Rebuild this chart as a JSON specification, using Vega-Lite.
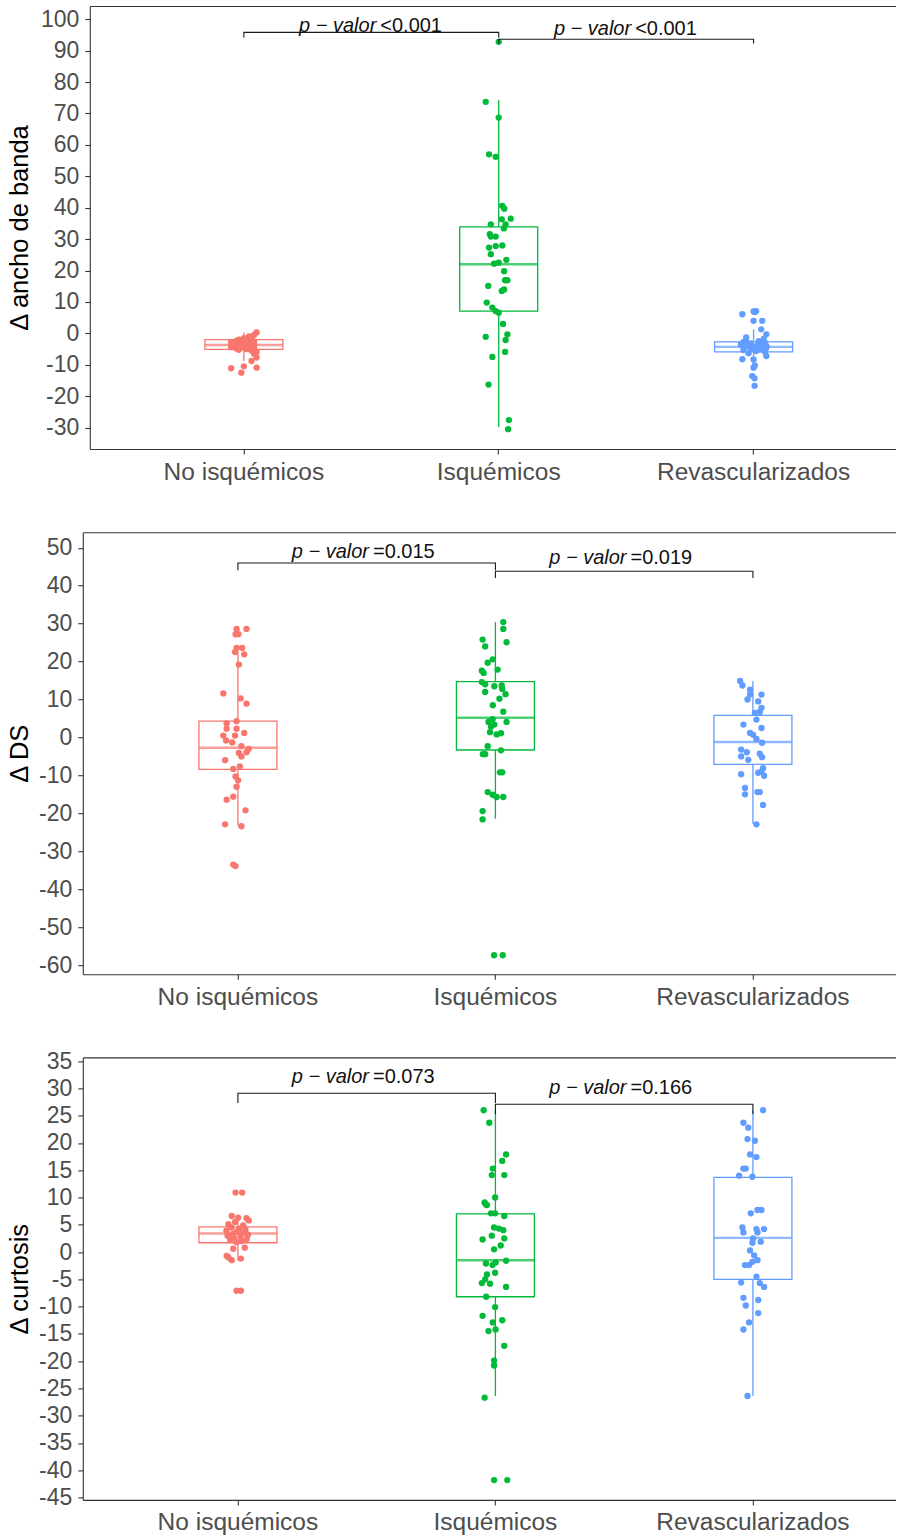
{
  "$schema": "https://vega.github.io/schema/vega-lite/v6.json",
  "background": "white",
  "padding": {"left": 7.8, "top": 6, "right": 0, "bottom": 0},
  "config": {
    "font": "Liberation Sans",
    "view": {"stroke": null},
    "axis": {"grid": false, "domainColor": "#333333", "domainWidth": 1.1, "tickColor": "#333333", "tickWidth": 1.1, "tickSize": 5, "labelColor": "#4D4D4D", "labelFont": "Liberation Sans", "titleFont": "Liberation Sans", "titleColor": "#000000", "titleFontWeight": "normal", "labelLimit": 0}
  },
  "datasets": {
    "box": [
      {"panel":"a","grupo":"No isquémicos","lower":-8.8,"q1":-5.1,"median":-3.7,"q3":-2.0,"upper":0.3},
      {"panel":"a","grupo":"Isquémicos","lower":-29.8,"q1":7.1,"median":22.0,"q3":33.9,"upper":74.2},
      {"panel":"a","grupo":"Revascularizados","lower":-10.2,"q1":-5.9,"median":-4.3,"q3":-2.7,"upper":1.3},
      {"panel":"d","grupo":"No isquémicos","lower":-23.3,"q1":-8.4,"median":-2.7,"q3":4.3,"upper":22.5},
      {"panel":"d","grupo":"Isquémicos","lower":-21.4,"q1":-3.3,"median":5.2,"q3":14.7,"upper":30.4},
      {"panel":"d","grupo":"Revascularizados","lower":-22.8,"q1":-7.1,"median":-1.2,"q3":5.8,"upper":14.8},
      {"panel":"c","grupo":"No isquémicos","lower":-1.5,"q1":1.7,"median":3.4,"q3":4.6,"upper":6.6},
      {"panel":"c","grupo":"Isquémicos","lower":-26.4,"q1":-8.2,"median":-1.5,"q3":7.0,"upper":26.0},
      {"panel":"c","grupo":"Revascularizados","lower":-26.4,"q1":-5.0,"median":2.6,"q3":13.7,"upper":26.0}
    ],
    "br": [
      {"panel":"a","br":1,"grupo":"No isquémicos","y":94.2,"ord":0},
      {"panel":"a","br":1,"grupo":"No isquémicos","y":95.8,"ord":1},
      {"panel":"a","br":1,"grupo":"Isquémicos","y":95.8,"ord":2},
      {"panel":"a","br":1,"grupo":"Isquémicos","y":94.2,"ord":3},
      {"panel":"a","br":2,"grupo":"Isquémicos","y":92.3,"ord":0},
      {"panel":"a","br":2,"grupo":"Isquémicos","y":93.6,"ord":1},
      {"panel":"a","br":2,"grupo":"Revascularizados","y":93.6,"ord":2},
      {"panel":"a","br":2,"grupo":"Revascularizados","y":92.3,"ord":3},
      {"panel":"d","br":1,"grupo":"No isquémicos","y":44.1,"ord":0},
      {"panel":"d","br":1,"grupo":"No isquémicos","y":46.0,"ord":1},
      {"panel":"d","br":1,"grupo":"Isquémicos","y":46.0,"ord":2},
      {"panel":"d","br":1,"grupo":"Isquémicos","y":44.1,"ord":3},
      {"panel":"d","br":2,"grupo":"Isquémicos","y":42.0,"ord":0},
      {"panel":"d","br":2,"grupo":"Isquémicos","y":43.8,"ord":1},
      {"panel":"d","br":2,"grupo":"Revascularizados","y":43.8,"ord":2},
      {"panel":"d","br":2,"grupo":"Revascularizados","y":42.0,"ord":3},
      {"panel":"c","br":1,"grupo":"No isquémicos","y":27.3,"ord":0},
      {"panel":"c","br":1,"grupo":"No isquémicos","y":29.1,"ord":1},
      {"panel":"c","br":1,"grupo":"Isquémicos","y":29.1,"ord":2},
      {"panel":"c","br":1,"grupo":"Isquémicos","y":27.3,"ord":3},
      {"panel":"c","br":2,"grupo":"Isquémicos","y":25.3,"ord":0},
      {"panel":"c","br":2,"grupo":"Isquémicos","y":27.1,"ord":1},
      {"panel":"c","br":2,"grupo":"Revascularizados","y":27.1,"ord":2},
      {"panel":"c","br":2,"grupo":"Revascularizados","y":25.3,"ord":3}
    ],
    "lab": [
      {"panel":"a","grupo":"No isquémicos","y":96.0,"rel":"<0.001"},
      {"panel":"a","grupo":"Isquémicos","y":94.9,"rel":"<0.001"},
      {"panel":"d","grupo":"No isquémicos","y":47.4,"rel":"=0.015"},
      {"panel":"d","grupo":"Isquémicos","y":45.6,"rel":"=0.019"},
      {"panel":"c","grupo":"No isquémicos","y":31.0,"rel":"=0.073"},
      {"panel":"c","grupo":"Isquémicos","y":29.0,"rel":"=0.166"}
    ],
    "pts": [
      {"panel":"a","grupo":"No isquémicos","valor":0.3,"jit":0.05},
      {"panel":"a","grupo":"No isquémicos","valor":-0.5,"jit":0.04},
      {"panel":"a","grupo":"No isquémicos","valor":-1.0,"jit":0.02},
      {"panel":"a","grupo":"No isquémicos","valor":-1.5,"jit":0.0},
      {"panel":"a","grupo":"No isquémicos","valor":-1.8,"jit":0.03},
      {"panel":"a","grupo":"No isquémicos","valor":-2.0,"jit":-0.02},
      {"panel":"a","grupo":"No isquémicos","valor":-2.2,"jit":0.01},
      {"panel":"a","grupo":"No isquémicos","valor":-2.4,"jit":-0.03},
      {"panel":"a","grupo":"No isquémicos","valor":-2.6,"jit":0.04},
      {"panel":"a","grupo":"No isquémicos","valor":-2.8,"jit":0.0},
      {"panel":"a","grupo":"No isquémicos","valor":-3.0,"jit":-0.04},
      {"panel":"a","grupo":"No isquémicos","valor":-3.1,"jit":0.02},
      {"panel":"a","grupo":"No isquémicos","valor":-3.3,"jit":-0.01},
      {"panel":"a","grupo":"No isquémicos","valor":-3.4,"jit":0.03},
      {"panel":"a","grupo":"No isquémicos","valor":-3.5,"jit":-0.03},
      {"panel":"a","grupo":"No isquémicos","valor":-3.6,"jit":0.01},
      {"panel":"a","grupo":"No isquémicos","valor":-3.7,"jit":-0.05},
      {"panel":"a","grupo":"No isquémicos","valor":-3.8,"jit":0.04},
      {"panel":"a","grupo":"No isquémicos","valor":-3.9,"jit":-0.02},
      {"panel":"a","grupo":"No isquémicos","valor":-4.0,"jit":0.0},
      {"panel":"a","grupo":"No isquémicos","valor":-4.1,"jit":0.03},
      {"panel":"a","grupo":"No isquémicos","valor":-4.2,"jit":-0.04},
      {"panel":"a","grupo":"No isquémicos","valor":-4.3,"jit":0.02},
      {"panel":"a","grupo":"No isquémicos","valor":-4.5,"jit":-0.01},
      {"panel":"a","grupo":"No isquémicos","valor":-4.6,"jit":0.04},
      {"panel":"a","grupo":"No isquémicos","valor":-4.8,"jit":-0.03},
      {"panel":"a","grupo":"No isquémicos","valor":-5.0,"jit":0.01},
      {"panel":"a","grupo":"No isquémicos","valor":-5.2,"jit":-0.02},
      {"panel":"a","grupo":"No isquémicos","valor":-5.5,"jit":0.03},
      {"panel":"a","grupo":"No isquémicos","valor":-5.9,"jit":0.05},
      {"panel":"a","grupo":"No isquémicos","valor":-6.5,"jit":0.04},
      {"panel":"a","grupo":"No isquémicos","valor":-7.7,"jit":0.05},
      {"panel":"a","grupo":"No isquémicos","valor":-8.8,"jit":0.03},
      {"panel":"a","grupo":"No isquémicos","valor":-10.5,"jit":0.0},
      {"panel":"a","grupo":"No isquémicos","valor":-10.9,"jit":0.05},
      {"panel":"a","grupo":"No isquémicos","valor":-11.1,"jit":-0.05},
      {"panel":"a","grupo":"No isquémicos","valor":-12.5,"jit":-0.01},
      {"panel":"a","grupo":"No isquémicos","valor":-2.9,"jit":-0.05},
      {"panel":"a","grupo":"No isquémicos","valor":-4.4,"jit":-0.05},
      {"panel":"a","grupo":"Isquémicos","valor":92.8,"jit":0.0},
      {"panel":"a","grupo":"Isquémicos","valor":73.7,"jit":-0.051},
      {"panel":"a","grupo":"Isquémicos","valor":68.7,"jit":0.0},
      {"panel":"a","grupo":"Isquémicos","valor":57.0,"jit":-0.038},
      {"panel":"a","grupo":"Isquémicos","valor":56.2,"jit":-0.012},
      {"panel":"a","grupo":"Isquémicos","valor":40.6,"jit":0.014},
      {"panel":"a","grupo":"Isquémicos","valor":39.7,"jit":0.022},
      {"panel":"a","grupo":"Isquémicos","valor":36.3,"jit":0.012},
      {"panel":"a","grupo":"Isquémicos","valor":36.5,"jit":0.047},
      {"panel":"a","grupo":"Isquémicos","valor":34.7,"jit":-0.031},
      {"panel":"a","grupo":"Isquémicos","valor":34.7,"jit":0.027},
      {"panel":"a","grupo":"Isquémicos","valor":33.4,"jit":0.02},
      {"panel":"a","grupo":"Isquémicos","valor":31.6,"jit":-0.035},
      {"panel":"a","grupo":"Isquémicos","valor":30.8,"jit":-0.031},
      {"panel":"a","grupo":"Isquémicos","valor":30.8,"jit":-0.012},
      {"panel":"a","grupo":"Isquémicos","valor":27.3,"jit":-0.038},
      {"panel":"a","grupo":"Isquémicos","valor":27.8,"jit":-0.012},
      {"panel":"a","grupo":"Isquémicos","valor":28.0,"jit":0.014},
      {"panel":"a","grupo":"Isquémicos","valor":25.2,"jit":-0.031},
      {"panel":"a","grupo":"Isquémicos","valor":23.4,"jit":0.03},
      {"panel":"a","grupo":"Isquémicos","valor":22.2,"jit":-0.018},
      {"panel":"a","grupo":"Isquémicos","valor":22.5,"jit":0.0},
      {"panel":"a","grupo":"Isquémicos","valor":19.8,"jit":0.021},
      {"panel":"a","grupo":"Isquémicos","valor":16.9,"jit":0.034},
      {"panel":"a","grupo":"Isquémicos","valor":16.9,"jit":0.025},
      {"panel":"a","grupo":"Isquémicos","valor":15.1,"jit":-0.041},
      {"panel":"a","grupo":"Isquémicos","valor":14.0,"jit":0.021},
      {"panel":"a","grupo":"Isquémicos","valor":13.5,"jit":0.012},
      {"panel":"a","grupo":"Isquémicos","valor":9.8,"jit":-0.047},
      {"panel":"a","grupo":"Isquémicos","valor":8.2,"jit":-0.025},
      {"panel":"a","grupo":"Isquémicos","valor":7.1,"jit":-0.012},
      {"panel":"a","grupo":"Isquémicos","valor":6.6,"jit":0.0},
      {"panel":"a","grupo":"Isquémicos","valor":3.0,"jit":0.017},
      {"panel":"a","grupo":"Isquémicos","valor":-1.1,"jit":-0.051},
      {"panel":"a","grupo":"Isquémicos","valor":-0.3,"jit":0.034},
      {"panel":"a","grupo":"Isquémicos","valor":-2.1,"jit":0.027},
      {"panel":"a","grupo":"Isquémicos","valor":-7.5,"jit":-0.025},
      {"panel":"a","grupo":"Isquémicos","valor":-5.9,"jit":0.025},
      {"panel":"a","grupo":"Isquémicos","valor":-16.3,"jit":-0.04},
      {"panel":"a","grupo":"Isquémicos","valor":-27.6,"jit":0.04},
      {"panel":"a","grupo":"Isquémicos","valor":-30.5,"jit":0.037},
      {"panel":"a","grupo":"Revascularizados","valor":7.1,"jit":0.01},
      {"panel":"a","grupo":"Revascularizados","valor":7.0,"jit":0.0},
      {"panel":"a","grupo":"Revascularizados","valor":6.8,"jit":0.005},
      {"panel":"a","grupo":"Revascularizados","valor":6.1,"jit":-0.044},
      {"panel":"a","grupo":"Revascularizados","valor":4.0,"jit":0.0},
      {"panel":"a","grupo":"Revascularizados","valor":4.0,"jit":0.034},
      {"panel":"a","grupo":"Revascularizados","valor":1.3,"jit":0.03},
      {"panel":"a","grupo":"Revascularizados","valor":-0.3,"jit":0.05},
      {"panel":"a","grupo":"Revascularizados","valor":-1.3,"jit":-0.029},
      {"panel":"a","grupo":"Revascularizados","valor":-1.8,"jit":0.04},
      {"panel":"a","grupo":"Revascularizados","valor":-2.2,"jit":-0.03},
      {"panel":"a","grupo":"Revascularizados","valor":-2.5,"jit":0.02},
      {"panel":"a","grupo":"Revascularizados","valor":-2.8,"jit":-0.04},
      {"panel":"a","grupo":"Revascularizados","valor":-3.0,"jit":0.045},
      {"panel":"a","grupo":"Revascularizados","valor":-3.2,"jit":-0.01},
      {"panel":"a","grupo":"Revascularizados","valor":-3.4,"jit":0.03},
      {"panel":"a","grupo":"Revascularizados","valor":-3.6,"jit":-0.045},
      {"panel":"a","grupo":"Revascularizados","valor":-3.8,"jit":0.015},
      {"panel":"a","grupo":"Revascularizados","valor":-4.0,"jit":-0.02},
      {"panel":"a","grupo":"Revascularizados","valor":-4.1,"jit":0.05},
      {"panel":"a","grupo":"Revascularizados","valor":-4.3,"jit":0.0},
      {"panel":"a","grupo":"Revascularizados","valor":-4.5,"jit":-0.035},
      {"panel":"a","grupo":"Revascularizados","valor":-4.7,"jit":0.035},
      {"panel":"a","grupo":"Revascularizados","valor":-4.9,"jit":-0.01},
      {"panel":"a","grupo":"Revascularizados","valor":-5.1,"jit":0.025},
      {"panel":"a","grupo":"Revascularizados","valor":-5.3,"jit":-0.04},
      {"panel":"a","grupo":"Revascularizados","valor":-5.6,"jit":0.01},
      {"panel":"a","grupo":"Revascularizados","valor":-5.9,"jit":0.045},
      {"panel":"a","grupo":"Revascularizados","valor":-6.3,"jit":-0.02},
      {"panel":"a","grupo":"Revascularizados","valor":-7.2,"jit":0.05},
      {"panel":"a","grupo":"Revascularizados","valor":-8.2,"jit":-0.044},
      {"panel":"a","grupo":"Revascularizados","valor":-8.3,"jit":0.0},
      {"panel":"a","grupo":"Revascularizados","valor":-10.2,"jit":0.005},
      {"panel":"a","grupo":"Revascularizados","valor":-10.9,"jit":0.0},
      {"panel":"a","grupo":"Revascularizados","valor":-13.6,"jit":-0.005},
      {"panel":"a","grupo":"Revascularizados","valor":-14.3,"jit":0.004},
      {"panel":"a","grupo":"Revascularizados","valor":-16.7,"jit":0.004},
      {"panel":"a","grupo":"Revascularizados","valor":-3.5,"jit":-0.05},
      {"panel":"a","grupo":"Revascularizados","valor":-4.6,"jit":0.05},
      {"panel":"d","grupo":"No isquémicos","valor":28.6,"jit":0.0},
      {"panel":"d","grupo":"No isquémicos","valor":28.6,"jit":0.039},
      {"panel":"d","grupo":"No isquémicos","valor":27.2,"jit":-0.004},
      {"panel":"d","grupo":"No isquémicos","valor":27.2,"jit":0.007},
      {"panel":"d","grupo":"No isquémicos","valor":23.6,"jit":0.0},
      {"panel":"d","grupo":"No isquémicos","valor":23.6,"jit":0.022},
      {"panel":"d","grupo":"No isquémicos","valor":22.5,"jit":-0.006},
      {"panel":"d","grupo":"No isquémicos","valor":21.9,"jit":0.03},
      {"panel":"d","grupo":"No isquémicos","valor":19.2,"jit":0.009},
      {"panel":"d","grupo":"No isquémicos","valor":11.6,"jit":-0.052},
      {"panel":"d","grupo":"No isquémicos","valor":10.3,"jit":0.016},
      {"panel":"d","grupo":"No isquémicos","valor":8.9,"jit":0.039},
      {"panel":"d","grupo":"No isquémicos","valor":4.3,"jit":0.0},
      {"panel":"d","grupo":"No isquémicos","valor":3.7,"jit":-0.039},
      {"panel":"d","grupo":"No isquémicos","valor":2.3,"jit":-0.039},
      {"panel":"d","grupo":"No isquémicos","valor":2.3,"jit":0.0},
      {"panel":"d","grupo":"No isquémicos","valor":1.2,"jit":0.03},
      {"panel":"d","grupo":"No isquémicos","valor":0.5,"jit":-0.052},
      {"panel":"d","grupo":"No isquémicos","valor":0.5,"jit":-0.006},
      {"panel":"d","grupo":"No isquémicos","valor":-0.8,"jit":-0.041},
      {"panel":"d","grupo":"No isquémicos","valor":-1.3,"jit":-0.017},
      {"panel":"d","grupo":"No isquémicos","valor":-2.3,"jit":0.019},
      {"panel":"d","grupo":"No isquémicos","valor":-3.0,"jit":0.048},
      {"panel":"d","grupo":"No isquémicos","valor":-3.9,"jit":0.039},
      {"panel":"d","grupo":"No isquémicos","valor":-4.1,"jit":0.009},
      {"panel":"d","grupo":"No isquémicos","valor":-5.0,"jit":0.019},
      {"panel":"d","grupo":"No isquémicos","valor":-6.0,"jit":-0.045},
      {"panel":"d","grupo":"No isquémicos","valor":-7.6,"jit":0.013},
      {"panel":"d","grupo":"No isquémicos","valor":-8.3,"jit":-0.013},
      {"panel":"d","grupo":"No isquémicos","valor":-10.3,"jit":-0.004},
      {"panel":"d","grupo":"No isquémicos","valor":-11.3,"jit":0.006},
      {"panel":"d","grupo":"No isquémicos","valor":-13.0,"jit":0.0},
      {"panel":"d","grupo":"No isquémicos","valor":-15.6,"jit":-0.013},
      {"panel":"d","grupo":"No isquémicos","valor":-16.4,"jit":-0.039},
      {"panel":"d","grupo":"No isquémicos","valor":-19.2,"jit":0.035},
      {"panel":"d","grupo":"No isquémicos","valor":-22.9,"jit":-0.045},
      {"panel":"d","grupo":"No isquémicos","valor":-23.4,"jit":0.019},
      {"panel":"d","grupo":"No isquémicos","valor":-33.5,"jit":-0.013},
      {"panel":"d","grupo":"No isquémicos","valor":-33.9,"jit":-0.004},
      {"panel":"d","grupo":"Isquémicos","valor":30.4,"jit":0.036},
      {"panel":"d","grupo":"Isquémicos","valor":28.6,"jit":0.036},
      {"panel":"d","grupo":"Isquémicos","valor":25.8,"jit":-0.045},
      {"panel":"d","grupo":"Isquémicos","valor":24.0,"jit":-0.035},
      {"panel":"d","grupo":"Isquémicos","valor":25.1,"jit":0.049},
      {"panel":"d","grupo":"Isquémicos","valor":20.6,"jit":-0.005},
      {"panel":"d","grupo":"Isquémicos","valor":19.7,"jit":-0.025},
      {"panel":"d","grupo":"Isquémicos","valor":17.6,"jit":-0.048},
      {"panel":"d","grupo":"Isquémicos","valor":17.0,"jit":-0.041},
      {"panel":"d","grupo":"Isquémicos","valor":17.9,"jit":0.014},
      {"panel":"d","grupo":"Isquémicos","valor":14.6,"jit":-0.048},
      {"panel":"d","grupo":"Isquémicos","valor":14.0,"jit":-0.035},
      {"panel":"d","grupo":"Isquémicos","valor":13.5,"jit":0.001},
      {"panel":"d","grupo":"Isquémicos","valor":13.7,"jit":0.03},
      {"panel":"d","grupo":"Isquémicos","valor":12.8,"jit":0.032},
      {"panel":"d","grupo":"Isquémicos","valor":12.0,"jit":-0.035},
      {"panel":"d","grupo":"Isquémicos","valor":11.4,"jit":0.045},
      {"panel":"d","grupo":"Isquémicos","valor":10.2,"jit":0.021},
      {"panel":"d","grupo":"Isquémicos","valor":8.5,"jit":-0.005},
      {"panel":"d","grupo":"Isquémicos","valor":6.8,"jit":0.036},
      {"panel":"d","grupo":"Isquémicos","valor":4.1,"jit":-0.022},
      {"panel":"d","grupo":"Isquémicos","valor":4.8,"jit":-0.006},
      {"panel":"d","grupo":"Isquémicos","valor":4.1,"jit":0.049},
      {"panel":"d","grupo":"Isquémicos","valor":2.8,"jit":-0.012},
      {"panel":"d","grupo":"Isquémicos","valor":3.4,"jit":0.001},
      {"panel":"d","grupo":"Isquémicos","valor":1.4,"jit":-0.016},
      {"panel":"d","grupo":"Isquémicos","valor":0.8,"jit":0.01},
      {"panel":"d","grupo":"Isquémicos","valor":1.1,"jit":0.027},
      {"panel":"d","grupo":"Isquémicos","valor":-2.3,"jit":-0.025},
      {"panel":"d","grupo":"Isquémicos","valor":-4.4,"jit":-0.044},
      {"panel":"d","grupo":"Isquémicos","valor":-4.4,"jit":-0.035},
      {"panel":"d","grupo":"Isquémicos","valor":-3.4,"jit":0.027},
      {"panel":"d","grupo":"Isquémicos","valor":-9.2,"jit":0.023},
      {"panel":"d","grupo":"Isquémicos","valor":-9.2,"jit":0.032},
      {"panel":"d","grupo":"Isquémicos","valor":-14.4,"jit":-0.025},
      {"panel":"d","grupo":"Isquémicos","valor":-15.1,"jit":-0.006},
      {"panel":"d","grupo":"Isquémicos","valor":-15.7,"jit":0.01},
      {"panel":"d","grupo":"Isquémicos","valor":-15.7,"jit":0.036},
      {"panel":"d","grupo":"Isquémicos","valor":-19.4,"jit":-0.045},
      {"panel":"d","grupo":"Isquémicos","valor":-21.6,"jit":-0.045},
      {"panel":"d","grupo":"Isquémicos","valor":-57.4,"jit":0.0},
      {"panel":"d","grupo":"Isquémicos","valor":-57.4,"jit":0.034},
      {"panel":"d","grupo":"Revascularizados","valor":14.9,"jit":-0.045},
      {"panel":"d","grupo":"Revascularizados","valor":13.7,"jit":-0.036},
      {"panel":"d","grupo":"Revascularizados","valor":12.6,"jit":-0.006},
      {"panel":"d","grupo":"Revascularizados","valor":11.3,"jit":-0.006},
      {"panel":"d","grupo":"Revascularizados","valor":10.0,"jit":-0.016},
      {"panel":"d","grupo":"Revascularizados","valor":11.3,"jit":0.039},
      {"panel":"d","grupo":"Revascularizados","valor":9.5,"jit":0.026},
      {"panel":"d","grupo":"Revascularizados","valor":7.8,"jit":0.039},
      {"panel":"d","grupo":"Revascularizados","valor":6.5,"jit":0.013},
      {"panel":"d","grupo":"Revascularizados","valor":6.7,"jit":0.032},
      {"panel":"d","grupo":"Revascularizados","valor":4.7,"jit":0.019},
      {"panel":"d","grupo":"Revascularizados","valor":3.4,"jit":-0.032},
      {"panel":"d","grupo":"Revascularizados","valor":2.5,"jit":0.039},
      {"panel":"d","grupo":"Revascularizados","valor":1.2,"jit":-0.006},
      {"panel":"d","grupo":"Revascularizados","valor":0.7,"jit":0.006},
      {"panel":"d","grupo":"Revascularizados","valor":-0.4,"jit":0.019},
      {"panel":"d","grupo":"Revascularizados","valor":-1.4,"jit":0.041},
      {"panel":"d","grupo":"Revascularizados","valor":-3.2,"jit":-0.041},
      {"panel":"d","grupo":"Revascularizados","valor":-3.9,"jit":-0.019},
      {"panel":"d","grupo":"Revascularizados","valor":-5.0,"jit":-0.041},
      {"panel":"d","grupo":"Revascularizados","valor":-5.9,"jit":-0.013},
      {"panel":"d","grupo":"Revascularizados","valor":-4.3,"jit":0.032},
      {"panel":"d","grupo":"Revascularizados","valor":-5.2,"jit":0.041},
      {"panel":"d","grupo":"Revascularizados","valor":-8.1,"jit":0.045},
      {"panel":"d","grupo":"Revascularizados","valor":-9.0,"jit":0.039},
      {"panel":"d","grupo":"Revascularizados","valor":-9.3,"jit":0.026},
      {"panel":"d","grupo":"Revascularizados","valor":-9.7,"jit":-0.041},
      {"panel":"d","grupo":"Revascularizados","valor":-10.1,"jit":0.049},
      {"panel":"d","grupo":"Revascularizados","valor":-13.3,"jit":-0.026},
      {"panel":"d","grupo":"Revascularizados","valor":-15.0,"jit":-0.026},
      {"panel":"d","grupo":"Revascularizados","valor":-14.4,"jit":0.023},
      {"panel":"d","grupo":"Revascularizados","valor":-14.4,"jit":0.032},
      {"panel":"d","grupo":"Revascularizados","valor":-17.8,"jit":0.045},
      {"panel":"d","grupo":"Revascularizados","valor":-22.9,"jit":0.019},
      {"panel":"c","grupo":"No isquémicos","valor":10.9,"jit":-0.004},
      {"panel":"c","grupo":"No isquémicos","valor":10.9,"jit":0.022},
      {"panel":"c","grupo":"No isquémicos","valor":6.6,"jit":-0.019},
      {"panel":"c","grupo":"No isquémicos","valor":6.3,"jit":0.006},
      {"panel":"c","grupo":"No isquémicos","valor":6.2,"jit":0.039},
      {"panel":"c","grupo":"No isquémicos","valor":5.8,"jit":0.048},
      {"panel":"c","grupo":"No isquémicos","valor":5.1,"jit":-0.032},
      {"panel":"c","grupo":"No isquémicos","valor":5.5,"jit":-0.006},
      {"panel":"c","grupo":"No isquémicos","valor":4.9,"jit":0.026},
      {"panel":"c","grupo":"No isquémicos","valor":4.5,"jit":-0.02},
      {"panel":"c","grupo":"No isquémicos","valor":4.3,"jit":0.01},
      {"panel":"c","grupo":"No isquémicos","valor":4.1,"jit":0.035},
      {"panel":"c","grupo":"No isquémicos","valor":3.9,"jit":-0.04},
      {"panel":"c","grupo":"No isquémicos","valor":3.7,"jit":0.0},
      {"panel":"c","grupo":"No isquémicos","valor":3.5,"jit":0.025},
      {"panel":"c","grupo":"No isquémicos","valor":3.3,"jit":-0.015},
      {"panel":"c","grupo":"No isquémicos","valor":3.2,"jit":0.045},
      {"panel":"c","grupo":"No isquémicos","valor":3.0,"jit":-0.035},
      {"panel":"c","grupo":"No isquémicos","valor":2.8,"jit":0.015},
      {"panel":"c","grupo":"No isquémicos","valor":2.6,"jit":-0.01},
      {"panel":"c","grupo":"No isquémicos","valor":2.4,"jit":0.04},
      {"panel":"c","grupo":"No isquémicos","valor":2.2,"jit":-0.025},
      {"panel":"c","grupo":"No isquémicos","valor":2.0,"jit":0.02},
      {"panel":"c","grupo":"No isquémicos","valor":1.8,"jit":0.0},
      {"panel":"c","grupo":"No isquémicos","valor":0.8,"jit":0.032},
      {"panel":"c","grupo":"No isquémicos","valor":0.6,"jit":-0.013},
      {"panel":"c","grupo":"No isquémicos","valor":-0.7,"jit":-0.039},
      {"panel":"c","grupo":"No isquémicos","valor":-1.0,"jit":-0.032},
      {"panel":"c","grupo":"No isquémicos","valor":-1.5,"jit":-0.019},
      {"panel":"c","grupo":"No isquémicos","valor":-1.2,"jit":0.017},
      {"panel":"c","grupo":"No isquémicos","valor":-7.1,"jit":0.0},
      {"panel":"c","grupo":"No isquémicos","valor":-7.1,"jit":0.017},
      {"panel":"c","grupo":"Isquémicos","valor":26.0,"jit":-0.041},
      {"panel":"c","grupo":"Isquémicos","valor":23.7,"jit":-0.019},
      {"panel":"c","grupo":"Isquémicos","valor":17.9,"jit":0.047},
      {"panel":"c","grupo":"Isquémicos","valor":16.7,"jit":0.032},
      {"panel":"c","grupo":"Isquémicos","valor":15.3,"jit":-0.005},
      {"panel":"c","grupo":"Isquémicos","valor":14.1,"jit":-0.009},
      {"panel":"c","grupo":"Isquémicos","valor":14.1,"jit":0.04},
      {"panel":"c","grupo":"Isquémicos","valor":10.0,"jit":0.004},
      {"panel":"c","grupo":"Isquémicos","valor":9.1,"jit":-0.037},
      {"panel":"c","grupo":"Isquémicos","valor":8.7,"jit":-0.032},
      {"panel":"c","grupo":"Isquémicos","valor":8.6,"jit":-0.028},
      {"panel":"c","grupo":"Isquémicos","valor":7.1,"jit":-0.012},
      {"panel":"c","grupo":"Isquémicos","valor":7.1,"jit":0.004},
      {"panel":"c","grupo":"Isquémicos","valor":6.6,"jit":0.04},
      {"panel":"c","grupo":"Isquémicos","valor":4.5,"jit":0.0},
      {"panel":"c","grupo":"Isquémicos","valor":4.3,"jit":0.019},
      {"panel":"c","grupo":"Isquémicos","valor":4.0,"jit":0.036},
      {"panel":"c","grupo":"Isquémicos","valor":3.0,"jit":-0.009},
      {"panel":"c","grupo":"Isquémicos","valor":2.3,"jit":-0.045},
      {"panel":"c","grupo":"Isquémicos","valor":2.5,"jit":0.04},
      {"panel":"c","grupo":"Isquémicos","valor":1.2,"jit":0.026},
      {"panel":"c","grupo":"Isquémicos","valor":0.5,"jit":0.0},
      {"panel":"c","grupo":"Isquémicos","valor":-1.6,"jit":0.047},
      {"panel":"c","grupo":"Isquémicos","valor":-2.1,"jit":-0.032},
      {"panel":"c","grupo":"Isquémicos","valor":-2.4,"jit":-0.006},
      {"panel":"c","grupo":"Isquémicos","valor":-1.9,"jit":0.006},
      {"panel":"c","grupo":"Isquémicos","valor":-3.8,"jit":0.004},
      {"panel":"c","grupo":"Isquémicos","valor":-4.1,"jit":-0.028},
      {"panel":"c","grupo":"Isquémicos","valor":-5.0,"jit":-0.035},
      {"panel":"c","grupo":"Isquémicos","valor":-5.7,"jit":-0.048},
      {"panel":"c","grupo":"Isquémicos","valor":-5.8,"jit":-0.016},
      {"panel":"c","grupo":"Isquémicos","valor":-6.4,"jit":0.047},
      {"panel":"c","grupo":"Isquémicos","valor":-8.2,"jit":-0.031},
      {"panel":"c","grupo":"Isquémicos","valor":-10.1,"jit":0.004},
      {"panel":"c","grupo":"Isquémicos","valor":-11.7,"jit":-0.045},
      {"panel":"c","grupo":"Isquémicos","valor":-12.9,"jit":-0.005},
      {"panel":"c","grupo":"Isquémicos","valor":-12.5,"jit":0.032},
      {"panel":"c","grupo":"Isquémicos","valor":-14.5,"jit":-0.022},
      {"panel":"c","grupo":"Isquémicos","valor":-14.2,"jit":0.006},
      {"panel":"c","grupo":"Isquémicos","valor":-17.2,"jit":0.04},
      {"panel":"c","grupo":"Isquémicos","valor":-19.9,"jit":0.0},
      {"panel":"c","grupo":"Isquémicos","valor":-20.8,"jit":0.0},
      {"panel":"c","grupo":"Isquémicos","valor":-26.7,"jit":-0.037},
      {"panel":"c","grupo":"Isquémicos","valor":-41.8,"jit":0.0},
      {"panel":"c","grupo":"Isquémicos","valor":-41.8,"jit":0.052},
      {"panel":"c","grupo":"Revascularizados","valor":26.0,"jit":0.045},
      {"panel":"c","grupo":"Revascularizados","valor":23.7,"jit":-0.032},
      {"panel":"c","grupo":"Revascularizados","valor":22.8,"jit":-0.013},
      {"panel":"c","grupo":"Revascularizados","valor":20.7,"jit":-0.016},
      {"panel":"c","grupo":"Revascularizados","valor":20.4,"jit":0.013},
      {"panel":"c","grupo":"Revascularizados","valor":17.9,"jit":-0.006},
      {"panel":"c","grupo":"Revascularizados","valor":17.4,"jit":0.019},
      {"panel":"c","grupo":"Revascularizados","valor":15.3,"jit":-0.032},
      {"panel":"c","grupo":"Revascularizados","valor":15.3,"jit":-0.023},
      {"panel":"c","grupo":"Revascularizados","valor":14.0,"jit":-0.049},
      {"panel":"c","grupo":"Revascularizados","valor":13.8,"jit":0.003},
      {"panel":"c","grupo":"Revascularizados","valor":7.1,"jit":-0.003},
      {"panel":"c","grupo":"Revascularizados","valor":7.7,"jit":0.023},
      {"panel":"c","grupo":"Revascularizados","valor":7.7,"jit":0.039},
      {"panel":"c","grupo":"Revascularizados","valor":4.5,"jit":-0.036},
      {"panel":"c","grupo":"Revascularizados","valor":3.6,"jit":-0.032},
      {"panel":"c","grupo":"Revascularizados","valor":4.2,"jit":0.019},
      {"panel":"c","grupo":"Revascularizados","valor":4.2,"jit":0.049},
      {"panel":"c","grupo":"Revascularizados","valor":3.6,"jit":0.023},
      {"panel":"c","grupo":"Revascularizados","valor":2.5,"jit":0.006},
      {"panel":"c","grupo":"Revascularizados","valor":1.9,"jit":0.036},
      {"panel":"c","grupo":"Revascularizados","valor":1.7,"jit":0.003},
      {"panel":"c","grupo":"Revascularizados","valor":0.3,"jit":-0.006},
      {"panel":"c","grupo":"Revascularizados","valor":-0.6,"jit":0.01},
      {"panel":"c","grupo":"Revascularizados","valor":-1.5,"jit":0.023},
      {"panel":"c","grupo":"Revascularizados","valor":-1.8,"jit":0.003},
      {"panel":"c","grupo":"Revascularizados","valor":-2.4,"jit":-0.026},
      {"panel":"c","grupo":"Revascularizados","valor":-2.4,"jit":-0.01},
      {"panel":"c","grupo":"Revascularizados","valor":-4.5,"jit":0.019},
      {"panel":"c","grupo":"Revascularizados","valor":-5.6,"jit":-0.041},
      {"panel":"c","grupo":"Revascularizados","valor":-5.7,"jit":0.032},
      {"panel":"c","grupo":"Revascularizados","valor":-6.4,"jit":0.049},
      {"panel":"c","grupo":"Revascularizados","valor":-8.4,"jit":-0.032},
      {"panel":"c","grupo":"Revascularizados","valor":-9.8,"jit":-0.023},
      {"panel":"c","grupo":"Revascularizados","valor":-8.8,"jit":0.026},
      {"panel":"c","grupo":"Revascularizados","valor":-11.2,"jit":0.026},
      {"panel":"c","grupo":"Revascularizados","valor":-12.9,"jit":-0.01},
      {"panel":"c","grupo":"Revascularizados","valor":-14.2,"jit":-0.032},
      {"panel":"c","grupo":"Revascularizados","valor":-26.4,"jit":-0.016}
    ]
  },
  "vconcat": [
    {
      "width": 813, "height": 443,
      "resolve": {"axis": {"x": "independent", "y": "independent"}},
      "layer": [
        {"data": {"name": "box"}, "transform": [{"filter": "datum.panel === 'a'"}],
         "mark": {"type": "rule", "strokeWidth": 1.3},
         "encoding": {
           "x": {"field": "grupo", "type": "nominal", "sort": ["No isquémicos","Isquémicos","Revascularizados"], "scale": {"type": "band", "domain": ["No isquémicos","Isquémicos","Revascularizados"], "range": [7, 813], "paddingInner": 0, "paddingOuter": 0.0813, "align": 0.643}, "axis": {"orient": "bottom", "title": null, "labelFontSize": 24.5, "labelPadding": 6, "labelAngle": 0, "tickSize": 5}},
           "y": {"field": "lower", "type": "quantitative", "scale": {"domain": [-36.8, 104.2], "nice": false, "zero": false}, "axis": {"orient": "left", "title": "Δ ancho de banda", "offset": -7, "titleFontSize": 25.5, "titlePadding": 0, "titleBaseline": "alphabetic", "labelFontSize": 23, "labelPadding": 6, "tickSize": 5, "minExtent": 62, "maxExtent": 62, "values": [-30,-20,-10,0,10,20,30,40,50,60,70,80,90,100], "labelExpr": "replace(datum.label, '−', '-')"}},
           "y2": {"field": "upper"},
           "color": {"field": "grupo", "type": "nominal", "scale": {"domain": ["No isquémicos","Isquémicos","Revascularizados"], "range": ["#F8766D","#00BA38","#619CFF"]}, "legend": null}
         }},
        {"data": {"name": "box"}, "transform": [{"filter": "datum.panel === 'a'"}],
         "mark": {"type": "bar", "fill": "white", "strokeWidth": 1.3, "width": 78},
         "encoding": {
           "x": {"field": "grupo", "type": "nominal", "sort": ["No isquémicos","Isquémicos","Revascularizados"], "scale": {"type": "band", "domain": ["No isquémicos","Isquémicos","Revascularizados"], "range": [7, 813], "paddingInner": 0, "paddingOuter": 0.0813, "align": 0.643}, "axis": {"orient": "top", "title": null, "labels": false, "ticks": false, "domain": true}},
           "y": {"field": "q1", "type": "quantitative", "scale": {"domain": [-36.8, 104.2], "nice": false, "zero": false}, "axis": null},
           "y2": {"field": "q3"},
           "stroke": {"field": "grupo", "type": "nominal", "scale": {"domain": ["No isquémicos","Isquémicos","Revascularizados"], "range": ["#F8766D","#00BA38","#619CFF"]}, "legend": null}
         }},
        {"data": {"name": "box"}, "transform": [{"filter": "datum.panel === 'a'"}],
         "mark": {"type": "tick", "orient": "horizontal", "size": 78, "thickness": 2.4},
         "encoding": {
           "x": {"field": "grupo", "type": "nominal", "sort": ["No isquémicos","Isquémicos","Revascularizados"], "scale": {"type": "band", "domain": ["No isquémicos","Isquémicos","Revascularizados"], "range": [7, 813], "paddingInner": 0, "paddingOuter": 0.0813, "align": 0.643}, "axis": null},
           "y": {"field": "median", "type": "quantitative", "scale": {"domain": [-36.8, 104.2], "nice": false, "zero": false}, "axis": null},
           "color": {"field": "grupo", "type": "nominal", "scale": {"domain": ["No isquémicos","Isquémicos","Revascularizados"], "range": ["#F8766D","#00BA38","#619CFF"]}, "legend": null}
         }},
        {"data": {"name": "pts"}, "transform": [{"filter": "datum.panel === 'a'"}],
         "mark": {"type": "point", "filled": true, "size": 40, "opacity": 1},
         "encoding": {
           "x": {"field": "grupo", "type": "nominal", "sort": ["No isquémicos","Isquémicos","Revascularizados"], "scale": {"type": "band", "domain": ["No isquémicos","Isquémicos","Revascularizados"], "range": [7, 813], "paddingInner": 0, "paddingOuter": 0.0813, "align": 0.643}, "axis": null},
           "xOffset": {"field": "jit", "type": "quantitative", "scale": {"domain": [-0.5, 0.5]}},
           "y": {"field": "valor", "type": "quantitative", "scale": {"domain": [-36.8, 104.2], "nice": false, "zero": false}, "axis": null},
           "color": {"field": "grupo", "type": "nominal", "scale": {"domain": ["No isquémicos","Isquémicos","Revascularizados"], "range": ["#F8766D","#00BA38","#619CFF"]}, "legend": null}
         }},
        {"data": {"name": "br"}, "transform": [{"filter": "datum.panel === 'a'"}],
         "mark": {"type": "line", "color": "#1a1a1a", "strokeWidth": 1.1},
         "encoding": {
           "x": {"field": "grupo", "type": "nominal", "sort": ["No isquémicos","Isquémicos","Revascularizados"], "scale": {"type": "band", "domain": ["No isquémicos","Isquémicos","Revascularizados"], "range": [7, 813], "paddingInner": 0, "paddingOuter": 0.0813, "align": 0.643}, "axis": null},
           "y": {"field": "y", "type": "quantitative", "scale": {"domain": [-36.8, 104.2], "nice": false, "zero": false}, "axis": null},
           "detail": {"field": "br", "type": "nominal"},
           "order": {"field": "ord", "type": "quantitative"}
         }},
        {"data": {"name": "lab"}, "transform": [{"filter": "datum.panel === 'a'"}],
         "mark": {"type": "text", "text": "p − valor", "fontStyle": "italic", "fontSize": 20, "align": "right", "baseline": "alphabetic", "dx": 5, "color": "#111111"},
         "encoding": {
           "x": {"field": "grupo", "type": "nominal", "sort": ["No isquémicos","Isquémicos","Revascularizados"], "scale": {"type": "band", "domain": ["No isquémicos","Isquémicos","Revascularizados"], "range": [7, 813], "paddingInner": 0, "paddingOuter": 0.0813, "align": 0.643}, "axis": null},
           "xOffset": {"datum": 0.5, "type": "quantitative", "scale": {"domain": [-0.5, 0.5]}},
           "y": {"field": "y", "type": "quantitative", "scale": {"domain": [-36.8, 104.2], "nice": false, "zero": false}, "axis": null}
         }},
        {"data": {"name": "lab"}, "transform": [{"filter": "datum.panel === 'a'"}],
         "mark": {"type": "text", "fontSize": 20, "align": "left", "baseline": "alphabetic", "dx": 9, "color": "#111111"},
         "encoding": {
           "x": {"field": "grupo", "type": "nominal", "sort": ["No isquémicos","Isquémicos","Revascularizados"], "scale": {"type": "band", "domain": ["No isquémicos","Isquémicos","Revascularizados"], "range": [7, 813], "paddingInner": 0, "paddingOuter": 0.0813, "align": 0.643}, "axis": null},
           "xOffset": {"datum": 0.5, "type": "quantitative", "scale": {"domain": [-0.5, 0.5]}},
           "y": {"field": "y", "type": "quantitative", "scale": {"domain": [-36.8, 104.2], "nice": false, "zero": false}, "axis": null},
           "text": {"field": "rel", "type": "nominal"}
         }}
      ]
    },
    {
      "width": 813, "height": 442,
      "resolve": {"axis": {"x": "independent", "y": "independent"}},
      "layer": [
        {"data": {"name": "box"}, "transform": [{"filter": "datum.panel === 'd'"}],
         "mark": {"type": "rule", "strokeWidth": 1.3},
         "encoding": {
           "x": {"field": "grupo", "type": "nominal", "sort": ["No isquémicos","Isquémicos","Revascularizados"], "scale": {"type": "band", "domain": ["No isquémicos","Isquémicos","Revascularizados"], "paddingInner": 0, "paddingOuter": 0.0786, "align": 0.651}, "axis": {"orient": "bottom", "title": null, "labelFontSize": 24.5, "labelPadding": 6, "labelAngle": 0, "tickSize": 5}},
           "y": {"field": "lower", "type": "quantitative", "scale": {"domain": [-62.4, 54.1], "nice": false, "zero": false}, "axis": {"orient": "left", "title": "Δ DS", "titleFontSize": 25.5, "titlePadding": 0, "titleBaseline": "alphabetic", "labelFontSize": 23, "labelPadding": 6, "tickSize": 5, "minExtent": 55, "maxExtent": 55, "values": [-60,-50,-40,-30,-20,-10,0,10,20,30,40,50], "labelExpr": "replace(datum.label, '−', '-')"}},
           "y2": {"field": "upper"},
           "color": {"field": "grupo", "type": "nominal", "scale": {"domain": ["No isquémicos","Isquémicos","Revascularizados"], "range": ["#F8766D","#00BA38","#619CFF"]}, "legend": null}
         }},
        {"data": {"name": "box"}, "transform": [{"filter": "datum.panel === 'd'"}],
         "mark": {"type": "bar", "fill": "white", "strokeWidth": 1.3, "width": 78},
         "encoding": {
           "x": {"field": "grupo", "type": "nominal", "sort": ["No isquémicos","Isquémicos","Revascularizados"], "scale": {"type": "band", "domain": ["No isquémicos","Isquémicos","Revascularizados"], "paddingInner": 0, "paddingOuter": 0.0786, "align": 0.651}, "axis": {"orient": "top", "title": null, "labels": false, "ticks": false, "domain": true}},
           "y": {"field": "q1", "type": "quantitative", "scale": {"domain": [-62.4, 54.1], "nice": false, "zero": false}, "axis": null},
           "y2": {"field": "q3"},
           "stroke": {"field": "grupo", "type": "nominal", "scale": {"domain": ["No isquémicos","Isquémicos","Revascularizados"], "range": ["#F8766D","#00BA38","#619CFF"]}, "legend": null}
         }},
        {"data": {"name": "box"}, "transform": [{"filter": "datum.panel === 'd'"}],
         "mark": {"type": "tick", "orient": "horizontal", "size": 78, "thickness": 2.4},
         "encoding": {
           "x": {"field": "grupo", "type": "nominal", "sort": ["No isquémicos","Isquémicos","Revascularizados"], "scale": {"type": "band", "domain": ["No isquémicos","Isquémicos","Revascularizados"], "paddingInner": 0, "paddingOuter": 0.0786, "align": 0.651}, "axis": null},
           "y": {"field": "median", "type": "quantitative", "scale": {"domain": [-62.4, 54.1], "nice": false, "zero": false}, "axis": null},
           "color": {"field": "grupo", "type": "nominal", "scale": {"domain": ["No isquémicos","Isquémicos","Revascularizados"], "range": ["#F8766D","#00BA38","#619CFF"]}, "legend": null}
         }},
        {"data": {"name": "pts"}, "transform": [{"filter": "datum.panel === 'd'"}],
         "mark": {"type": "point", "filled": true, "size": 40, "opacity": 1},
         "encoding": {
           "x": {"field": "grupo", "type": "nominal", "sort": ["No isquémicos","Isquémicos","Revascularizados"], "scale": {"type": "band", "domain": ["No isquémicos","Isquémicos","Revascularizados"], "paddingInner": 0, "paddingOuter": 0.0786, "align": 0.651}, "axis": null},
           "xOffset": {"field": "jit", "type": "quantitative", "scale": {"domain": [-0.5, 0.5]}},
           "y": {"field": "valor", "type": "quantitative", "scale": {"domain": [-62.4, 54.1], "nice": false, "zero": false}, "axis": null},
           "color": {"field": "grupo", "type": "nominal", "scale": {"domain": ["No isquémicos","Isquémicos","Revascularizados"], "range": ["#F8766D","#00BA38","#619CFF"]}, "legend": null}
         }},
        {"data": {"name": "br"}, "transform": [{"filter": "datum.panel === 'd'"}],
         "mark": {"type": "line", "color": "#1a1a1a", "strokeWidth": 1.1},
         "encoding": {
           "x": {"field": "grupo", "type": "nominal", "sort": ["No isquémicos","Isquémicos","Revascularizados"], "scale": {"type": "band", "domain": ["No isquémicos","Isquémicos","Revascularizados"], "paddingInner": 0, "paddingOuter": 0.0786, "align": 0.651}, "axis": null},
           "y": {"field": "y", "type": "quantitative", "scale": {"domain": [-62.4, 54.1], "nice": false, "zero": false}, "axis": null},
           "detail": {"field": "br", "type": "nominal"},
           "order": {"field": "ord", "type": "quantitative"}
         }},
        {"data": {"name": "lab"}, "transform": [{"filter": "datum.panel === 'd'"}],
         "mark": {"type": "text", "text": "p − valor", "fontStyle": "italic", "fontSize": 20, "align": "right", "baseline": "alphabetic", "dx": 5, "color": "#111111"},
         "encoding": {
           "x": {"field": "grupo", "type": "nominal", "sort": ["No isquémicos","Isquémicos","Revascularizados"], "scale": {"type": "band", "domain": ["No isquémicos","Isquémicos","Revascularizados"], "paddingInner": 0, "paddingOuter": 0.0786, "align": 0.651}, "axis": null},
           "xOffset": {"datum": 0.5, "type": "quantitative", "scale": {"domain": [-0.5, 0.5]}},
           "y": {"field": "y", "type": "quantitative", "scale": {"domain": [-62.4, 54.1], "nice": false, "zero": false}, "axis": null}
         }},
        {"data": {"name": "lab"}, "transform": [{"filter": "datum.panel === 'd'"}],
         "mark": {"type": "text", "fontSize": 20, "align": "left", "baseline": "alphabetic", "dx": 9, "color": "#111111"},
         "encoding": {
           "x": {"field": "grupo", "type": "nominal", "sort": ["No isquémicos","Isquémicos","Revascularizados"], "scale": {"type": "band", "domain": ["No isquémicos","Isquémicos","Revascularizados"], "paddingInner": 0, "paddingOuter": 0.0786, "align": 0.651}, "axis": null},
           "xOffset": {"datum": 0.5, "type": "quantitative", "scale": {"domain": [-0.5, 0.5]}},
           "y": {"field": "y", "type": "quantitative", "scale": {"domain": [-62.4, 54.1], "nice": false, "zero": false}, "axis": null},
           "text": {"field": "rel", "type": "nominal"}
         }}
      ]
    },
    {
      "width": 813, "height": 442.5,
      "resolve": {"axis": {"x": "independent", "y": "independent"}},
      "layer": [
        {"data": {"name": "box"}, "transform": [{"filter": "datum.panel === 'c'"}],
         "mark": {"type": "rule", "strokeWidth": 1.3},
         "encoding": {
           "x": {"field": "grupo", "type": "nominal", "sort": ["No isquémicos","Isquémicos","Revascularizados"], "scale": {"type": "band", "domain": ["No isquémicos","Isquémicos","Revascularizados"], "paddingInner": 0, "paddingOuter": 0.0786, "align": 0.651}, "axis": {"orient": "bottom", "title": null, "labelFontSize": 24.5, "labelPadding": 6, "labelAngle": 0, "tickSize": 5}},
           "y": {"field": "lower", "type": "quantitative", "scale": {"domain": [-45.44, 35.68], "nice": false, "zero": false}, "axis": {"orient": "left", "title": "Δ curtosis", "titleFontSize": 25.5, "titlePadding": 0, "titleBaseline": "alphabetic", "labelFontSize": 23, "labelPadding": 6, "tickSize": 5, "minExtent": 55, "maxExtent": 55, "values": [-45,-40,-35,-30,-25,-20,-15,-10,-5,0,5,10,15,20,25,30,35], "labelExpr": "replace(datum.label, '−', '-')"}},
           "y2": {"field": "upper"},
           "color": {"field": "grupo", "type": "nominal", "scale": {"domain": ["No isquémicos","Isquémicos","Revascularizados"], "range": ["#F8766D","#00BA38","#619CFF"]}, "legend": null}
         }},
        {"data": {"name": "box"}, "transform": [{"filter": "datum.panel === 'c'"}],
         "mark": {"type": "bar", "fill": "white", "strokeWidth": 1.3, "width": 78},
         "encoding": {
           "x": {"field": "grupo", "type": "nominal", "sort": ["No isquémicos","Isquémicos","Revascularizados"], "scale": {"type": "band", "domain": ["No isquémicos","Isquémicos","Revascularizados"], "paddingInner": 0, "paddingOuter": 0.0786, "align": 0.651}, "axis": {"orient": "top", "title": null, "labels": false, "ticks": false, "domain": true}},
           "y": {"field": "q1", "type": "quantitative", "scale": {"domain": [-45.44, 35.68], "nice": false, "zero": false}, "axis": null},
           "y2": {"field": "q3"},
           "stroke": {"field": "grupo", "type": "nominal", "scale": {"domain": ["No isquémicos","Isquémicos","Revascularizados"], "range": ["#F8766D","#00BA38","#619CFF"]}, "legend": null}
         }},
        {"data": {"name": "box"}, "transform": [{"filter": "datum.panel === 'c'"}],
         "mark": {"type": "tick", "orient": "horizontal", "size": 78, "thickness": 2.4},
         "encoding": {
           "x": {"field": "grupo", "type": "nominal", "sort": ["No isquémicos","Isquémicos","Revascularizados"], "scale": {"type": "band", "domain": ["No isquémicos","Isquémicos","Revascularizados"], "paddingInner": 0, "paddingOuter": 0.0786, "align": 0.651}, "axis": null},
           "y": {"field": "median", "type": "quantitative", "scale": {"domain": [-45.44, 35.68], "nice": false, "zero": false}, "axis": null},
           "color": {"field": "grupo", "type": "nominal", "scale": {"domain": ["No isquémicos","Isquémicos","Revascularizados"], "range": ["#F8766D","#00BA38","#619CFF"]}, "legend": null}
         }},
        {"data": {"name": "pts"}, "transform": [{"filter": "datum.panel === 'c'"}],
         "mark": {"type": "point", "filled": true, "size": 40, "opacity": 1},
         "encoding": {
           "x": {"field": "grupo", "type": "nominal", "sort": ["No isquémicos","Isquémicos","Revascularizados"], "scale": {"type": "band", "domain": ["No isquémicos","Isquémicos","Revascularizados"], "paddingInner": 0, "paddingOuter": 0.0786, "align": 0.651}, "axis": null},
           "xOffset": {"field": "jit", "type": "quantitative", "scale": {"domain": [-0.5, 0.5]}},
           "y": {"field": "valor", "type": "quantitative", "scale": {"domain": [-45.44, 35.68], "nice": false, "zero": false}, "axis": null},
           "color": {"field": "grupo", "type": "nominal", "scale": {"domain": ["No isquémicos","Isquémicos","Revascularizados"], "range": ["#F8766D","#00BA38","#619CFF"]}, "legend": null}
         }},
        {"data": {"name": "br"}, "transform": [{"filter": "datum.panel === 'c'"}],
         "mark": {"type": "line", "color": "#1a1a1a", "strokeWidth": 1.1},
         "encoding": {
           "x": {"field": "grupo", "type": "nominal", "sort": ["No isquémicos","Isquémicos","Revascularizados"], "scale": {"type": "band", "domain": ["No isquémicos","Isquémicos","Revascularizados"], "paddingInner": 0, "paddingOuter": 0.0786, "align": 0.651}, "axis": null},
           "y": {"field": "y", "type": "quantitative", "scale": {"domain": [-45.44, 35.68], "nice": false, "zero": false}, "axis": null},
           "detail": {"field": "br", "type": "nominal"},
           "order": {"field": "ord", "type": "quantitative"}
         }},
        {"data": {"name": "lab"}, "transform": [{"filter": "datum.panel === 'c'"}],
         "mark": {"type": "text", "text": "p − valor", "fontStyle": "italic", "fontSize": 20, "align": "right", "baseline": "alphabetic", "dx": 5, "color": "#111111"},
         "encoding": {
           "x": {"field": "grupo", "type": "nominal", "sort": ["No isquémicos","Isquémicos","Revascularizados"], "scale": {"type": "band", "domain": ["No isquémicos","Isquémicos","Revascularizados"], "paddingInner": 0, "paddingOuter": 0.0786, "align": 0.651}, "axis": null},
           "xOffset": {"datum": 0.5, "type": "quantitative", "scale": {"domain": [-0.5, 0.5]}},
           "y": {"field": "y", "type": "quantitative", "scale": {"domain": [-45.44, 35.68], "nice": false, "zero": false}, "axis": null}
         }},
        {"data": {"name": "lab"}, "transform": [{"filter": "datum.panel === 'c'"}],
         "mark": {"type": "text", "fontSize": 20, "align": "left", "baseline": "alphabetic", "dx": 9, "color": "#111111"},
         "encoding": {
           "x": {"field": "grupo", "type": "nominal", "sort": ["No isquémicos","Isquémicos","Revascularizados"], "scale": {"type": "band", "domain": ["No isquémicos","Isquémicos","Revascularizados"], "paddingInner": 0, "paddingOuter": 0.0786, "align": 0.651}, "axis": null},
           "xOffset": {"datum": 0.5, "type": "quantitative", "scale": {"domain": [-0.5, 0.5]}},
           "y": {"field": "y", "type": "quantitative", "scale": {"domain": [-45.44, 35.68], "nice": false, "zero": false}, "axis": null},
           "text": {"field": "rel", "type": "nominal"}
         }}
      ]
    }
  ],
  "spacing": 83.2,
  "bounds": "flush"
}
